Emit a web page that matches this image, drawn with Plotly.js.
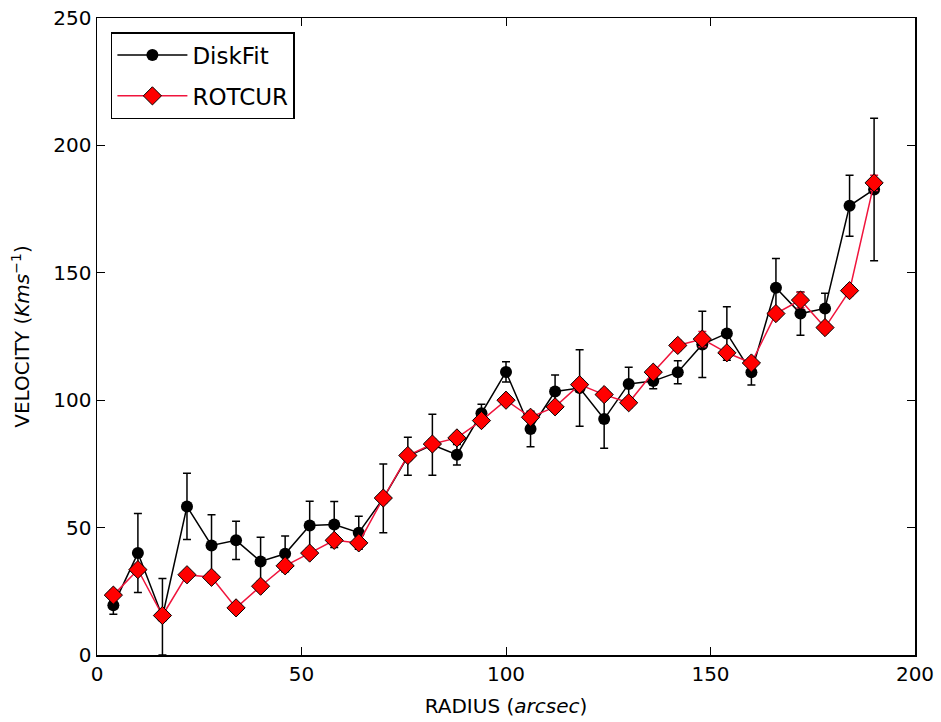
<!DOCTYPE html>
<html>
<head>
<meta charset="utf-8">
<script src="https://cdn.plot.ly/plotly-3.0.1.min.js"></script>
<style>html,body{margin:0;padding:0;background:#fff;}#chart{width:941px;height:722px;}</style>
</head>
<body>
<div id="chart"></div>
<script>
const radius = [4,10,16,22,28,34,40,46,52,58,64,70,76,82,88,94,100,106,112,118,124,130,136,142,148,154,160,166,172,178,184,190];
const diskfitVel = [19.5,40,15,58.3,43,45,36.7,39.7,50.8,51.2,48,61.5,78,82.5,78.6,94.9,111.1,88.7,103.4,104.8,92.6,106.4,107.5,111,121.9,126.2,111,144.1,134,136,176.3,182.7];
const diskfitErr = [3.5,15.5,15,13,12,7.5,9.5,7,9.5,9,6.5,13.5,7.5,12,4,3.5,4,7,6.5,15,11.5,6.5,3,4.5,13,10.5,5,11.5,8.5,6,12,28];
const rotcurVel = [23.5,33.5,15.5,31.5,30.5,18.5,27,35,40,45,44,61.6,78.3,82.8,85.2,92,100,93.3,97.4,106.1,102.2,99,111,121.5,124,118.6,114.6,134,139.3,128.5,143,185.3];
const rotcurErr = [2,2,2,2,2,2,2,2,2,2,2,2,2,2,2,2,2,2,2,2,2,2,2,2,3,2,2,2,3,2,2,3];

const traces = [
  {
    x: radius, y: diskfitVel, name: 'DiskFit', type: 'scatter', mode: 'lines+markers',
    legendgroup: 'a',
    line: {color: '#000000', width: 1.5},
    marker: {symbol: 'circle', size: 12, color: '#000000'},
    error_y: {type: 'data', array: diskfitErr, visible: true, color: '#000000', thickness: 1.5, width: 4}
  },
  {
    x: radius, y: rotcurVel, name: 'ROTCUR', type: 'scatter', mode: 'lines+markers',
    legendgroup: 'b',
    line: {color: '#f0143c', width: 1.5},
    marker: {symbol: 'diamond', size: 14, color: '#ff0000', line: {color: '#000000', width: 1}},
    error_y: {type: 'data', array: rotcurErr, visible: true, color: '#f0143c', thickness: 1.5, width: 4}
  }
];

const axisCommon = {
  showline: true, linecolor: '#000000', linewidth: 1.5, mirror: 'ticks',
  ticks: 'inside', ticklen: 8, tickwidth: 1, tickcolor: '#000000',
  showgrid: false, zeroline: false,
  tickfont: {family: 'DejaVu Sans', size: 20, color: '#000000'}
};

const layout = {
  width: 941, height: 722,
  margin: {l: 97, r: 26, t: 18, b: 67},
  paper_bgcolor: '#ffffff', plot_bgcolor: '#ffffff',
  showlegend: true,
  legend: {
    x: 0.017, y: 0.978, xanchor: 'left', yanchor: 'top',
    bgcolor: '#ffffff', bordercolor: '#000000', borderwidth: 1.5,
    font: {family: 'DejaVu Sans', size: 23, color: '#000000'},
    itemwidth: 70, tracegroupgap: 8
  },
  xaxis: Object.assign({}, axisCommon, {
    range: [0, 200], tickvals: [0,50,100,150,200],
    title: {text: 'RADIUS (<i>arcsec</i>)', font: {family: 'DejaVu Sans', size: 20, color: '#000000'}, standoff: 14}
  }),
  yaxis: Object.assign({}, axisCommon, {
    range: [0, 250], tickvals: [0,50,100,150,200,250],
    title: {text: 'VELOCITY (<i>Kms</i><sup>−1</sup>)', font: {family: 'DejaVu Sans', size: 20, color: '#000000'}, standoff: 18}
  })
};

Plotly.newPlot('chart', traces, layout, {displayModeBar: false, staticPlot: true});
</script>
</body>
</html>
